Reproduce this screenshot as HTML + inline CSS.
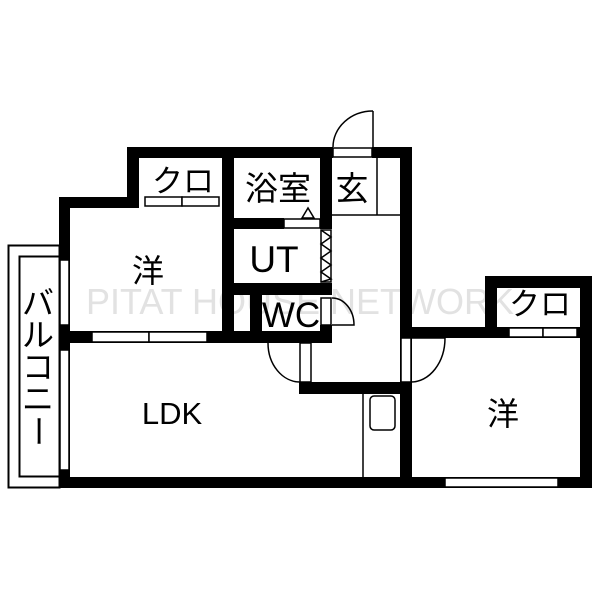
<!DOCTYPE html>
<html><head><meta charset="utf-8"><style>
html,body{margin:0;padding:0;background:#fff}
svg{display:block}
text{font-family:"Liberation Sans","Noto Sans CJK JP",sans-serif;fill:#000}
</style></head><body>
<svg width="600" height="600" viewBox="0 0 600 600" xmlns="http://www.w3.org/2000/svg">
<rect width="600" height="600" fill="#fff"/>
<text x="300" y="314" font-size="36" text-anchor="middle" style="fill:#e2e2e2">PITAT HOUSE NETWORK</text>

<rect x="8.5" y="245.5" width="51" height="242" fill="none" stroke="#000" stroke-width="2"/>
<rect x="19.5" y="256.5" width="40" height="220" fill="none" stroke="#000" stroke-width="2"/>

<g fill="#000">
<rect x="127" y="147" width="206" height="11"/>
<rect x="372" y="147" width="40" height="11"/>
<rect x="127" y="147" width="12" height="61"/>
<rect x="59" y="197" width="80" height="11"/>
<rect x="59" y="197" width="11" height="291"/>
<rect x="222" y="147" width="12" height="196"/>
<rect x="320" y="147" width="12" height="82"/>
<rect x="400" y="147" width="12" height="341"/>
<rect x="234" y="218" width="50" height="11"/>
<rect x="222" y="283" width="110" height="12"/>
<rect x="250" y="295" width="12" height="40"/>
<rect x="320" y="325" width="12" height="18"/>
<rect x="59" y="331" width="273" height="12"/>
<rect x="299" y="382" width="113" height="12"/>
<rect x="400" y="327" width="192" height="11"/>
<rect x="485" y="276" width="12" height="62"/>
<rect x="485" y="276" width="107" height="12"/>
<rect x="580" y="276" width="12" height="212"/>
<rect x="59" y="477" width="533" height="11"/>
</g>

<g fill="#fff" stroke="#000" stroke-width="1.5">
<rect x="60" y="260" width="9" height="65"/>
<rect x="60" y="350" width="9" height="120"/>
<rect x="145" y="197" width="37" height="9"/>
<rect x="182" y="197" width="37" height="9"/>
<rect x="92" y="332" width="57" height="10"/>
<rect x="149" y="332" width="58" height="10"/>
<rect x="284" y="219" width="36" height="9"/>
<rect x="333" y="148" width="39" height="9"/>
<rect x="509" y="328" width="34" height="9"/>
<rect x="543" y="328" width="34" height="9"/>
<rect x="445" y="478" width="113" height="9"/>
<rect x="300" y="343" width="11" height="39"/>
<rect x="401" y="338" width="10" height="44"/>
<rect x="321" y="298" width="10" height="27"/>
</g>

<g fill="none" stroke="#000" stroke-width="1.5">
<line x1="377" y1="158" x2="377" y2="215"/>
<line x1="332" y1="215" x2="400" y2="215"/>
<line x1="363" y1="394" x2="363" y2="477"/>
<rect x="370" y="396" width="25" height="34" rx="4"/>
<line x1="373" y1="111" x2="373" y2="147"/>
<path d="M333 147 A40 36 0 0 1 373 111"/>
<path d="M332 298 A22 27 0 0 1 354 325 L332 325"/>
<path d="M300 382 A32 39 0 0 1 268 343"/>
<path d="M411 382 A34 44 0 0 0 445 338 L411 338"/>
<rect x="321" y="230" width="10" height="52" fill="#fff"/>
<polyline points="321,230 331,237 321,244 331,251 321,258 331,265 321,272 331,279 321,282"/>
<polygon points="302,218 308,208 314,218" fill="#fff"/>
</g>

<text x="183" y="192" font-size="31" text-anchor="middle">クロ</text>
<text x="278" y="200" font-size="33" text-anchor="middle">浴室</text>
<text x="352" y="200" font-size="33" text-anchor="middle">玄</text>
<text x="148" y="282" font-size="32" text-anchor="middle">洋</text>
<text x="274" y="272" font-size="37" text-anchor="middle">UT</text>
<text x="291" y="327" font-size="35" text-anchor="middle">WC</text>
<text x="172" y="424" font-size="31" text-anchor="middle">LDK</text>
<text x="503" y="425" font-size="32" text-anchor="middle">洋</text>
<text x="540" y="315" font-size="31" text-anchor="middle">クロ</text>
<text x="38" y="314" font-size="32" text-anchor="middle">バ</text>
<text x="38" y="346" font-size="32" text-anchor="middle">ル</text>
<text x="38" y="378" font-size="32" text-anchor="middle">コ</text>
<text x="38" y="410" font-size="32" text-anchor="middle">ニ</text>
<text x="38" y="442" font-size="32" text-anchor="middle" transform="rotate(90 38 431)">ー</text>
</svg>
</body></html>
